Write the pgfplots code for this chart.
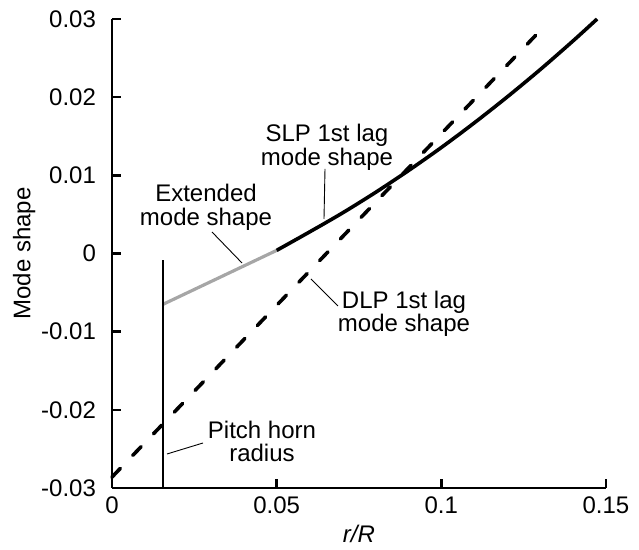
\documentclass[border=0pt]{standalone}
\usepackage{fontspec}
\setmainfont{Liberation Sans}
\usepackage{pgfplots}
\pgfplotsset{compat=1.18}
\begin{document}
\begin{tikzpicture}[font=\fontsize{12}{11.5}\selectfont]
\begin{axis}[
  scale only axis, width=247pt, height=234.5pt,
  xmin=0, xmax=0.15, ymin=-0.03, ymax=0.03,
  axis lines=left, axis line style={-, line width=1.3pt},
  tick align=inside, major tick length=4.5pt,
  tick style={line width=1.3pt, black},
  xtick={0,0.05,0.1,0.15},
  ytick={-0.03,-0.02,-0.01,0,0.01,0.02,0.03},
  scaled ticks=false,
  /pgf/number format/.cd, fixed, precision=2, assume math mode=true,
  /pgfplots/.cd,
  yticklabel style={xshift=-4.5pt},
  xticklabel style={yshift=-1pt},
  xlabel={\textit{r/R}},
  xlabel style={at={(axis description cs:0.5,-0.117)}, anchor=base},
  ylabel={Mode shape},
  ylabel style={at={(axis description cs:-0.178,0.5)}, anchor=center},
  clip=false,
]
% DLP 1st lag mode shape (dashed)
\addplot[black, line width=1.8pt, dash pattern=on 6pt off 9pt, line cap=round]
  coordinates {(0,-0.0286) (0.1309,0.0289)};
% Extended mode shape (grey)
\addplot[black!35, line width=1.6pt]
  coordinates {(0.0155,-0.0065) (0.05,0.0004)};
% SLP 1st lag mode shape
\addplot[black, line width=1.8pt, smooth]
  coordinates {(0.05,0.0004) (0.06,0.00276) (0.07,0.00519) (0.08,0.00781)
    (0.09,0.0106) (0.10,0.01356) (0.11,0.01671) (0.12,0.02003)
    (0.13,0.02352) (0.14,0.0272) (0.1473,0.030)};
% Pitch horn radius
\addplot[black, line width=1.4pt]
  coordinates {(0.0155,-0.03) (0.0155,-0.0008)};
\end{axis}
\begin{scope}[x=0.5pt, y=-0.5pt, shift={(-56pt,244pt)}]
  \path[use as bounding box] (0,0) rectangle (639,544);
  % SLP label
  \node[anchor=base] at (327,142) {SLP 1st lag};
  \node[anchor=base] at (327,166) {mode shape};
  \draw[line width=0.45pt] (325,169) -- (324,219);
  % Extended label
  \node[anchor=base] at (206,202) {Extended};
  \node[anchor=base] at (206,226) {mode shape};
  \draw[line width=0.45pt] (212,232) -- (242,263);
  % DLP label
  \node[anchor=base] at (404,309) {DLP 1st lag};
  \node[anchor=base] at (404,332) {mode shape};
  \draw[line width=0.45pt] (311,279) -- (338,306);
  % Pitch horn label
  \node[anchor=base] at (262,439) {Pitch horn};
  \node[anchor=base] at (262,462) {radius};
  \draw[line width=0.45pt] (167,454) -- (203,443);
\end{scope}
\end{tikzpicture}
\end{document}
